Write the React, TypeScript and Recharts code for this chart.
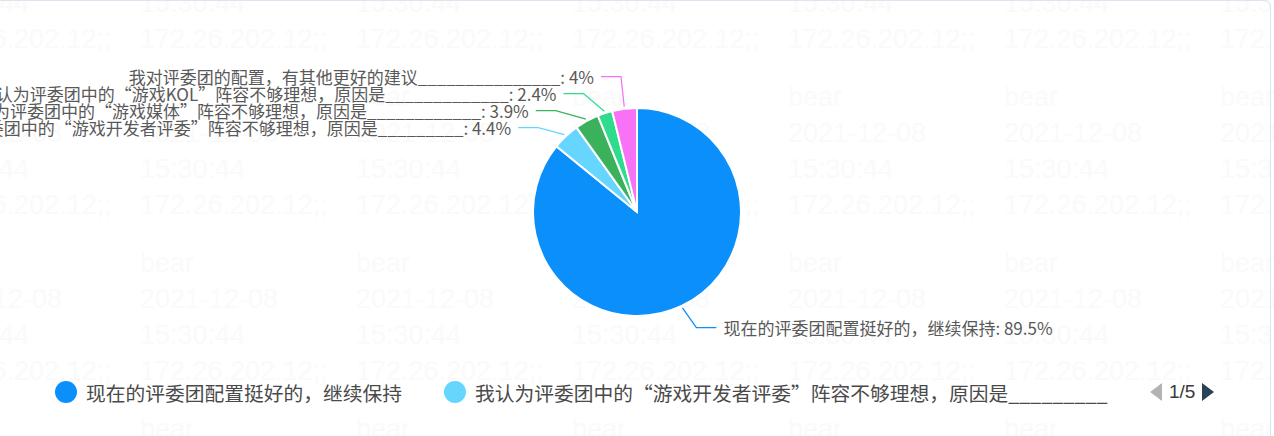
import { Cell, Legend, Pie, PieChart } from "recharts";

const answerLabels = [
  "现在的评委团配置挺好的，继续保持",
  "我认为评委团中的“游戏开发者评委”阵容不够理想，原因是_________",
  "我认为评委团中的“游戏媒体”阵容不够理想，原因是____________",
  "我认为评委团中的“游戏KOL”阵容不够理想，原因是_____________",
  "我对评委团的配置，有其他更好的建议_______________",
];
const answerShares = [89.5, 4.4, 3.9, 2.4, 4];
const sliceColors = ["#0a8ffb", "#66d6ff", "#3bb15b", "#2fdb8d", "#f872f6"];

const legendPerPage = 2;
const legendPage = "1/5";

const watermarkLines = ["bear", "2021-12-08", "15:30:44", "172.26.202.12;;"];

const chartWidth = 1274;
const chartHeight = 436;
const pieCx = 637;
const pieCy = 212;
const pieRadius = 104;
const startAngle = 90;
const endAngle = -270;

const labelFont = '"Noto Sans CJK SC", "Liberation Sans", sans-serif';
const RAD = Math.PI / 180;

const pieData = answerLabels.map((name, i) => ({ name, value: answerShares[i] }));

// label y positions: natural spot on a ring outside the pie, then spread so they don't overlap
function computeLabelYs(): number[] {
  const total = answerShares.reduce((s, v) => s + v, 0);
  const ring = pieRadius + 24;
  let acc = 0;
  const items = answerShares.map((v, i) => {
    const mid = startAngle + ((endAngle - startAngle) * (acc + v / 2)) / total;
    acc += v;
    const y = pieCy - ring * Math.sin(mid * RAD);
    return { i, right: Math.cos(mid * RAD) >= 0, natural: y, y };
  });
  const gap = 17;
  [true, false].forEach((side) => {
    const group = items.filter((d) => d.right === side).sort((a, b) => a.natural - b.natural);
    for (let k = 1; k < group.length; k++) {
      group[k].y = Math.max(group[k].y, group[k - 1].y + gap);
    }
    if (!group.length) return;
    const shift = group.reduce((s, d) => s + d.natural - d.y, 0) / group.length;
    group.forEach((d) => {
      d.y += shift * 0.7;
    });
  });
  return items.map((d) => d.y);
}

const labelYs = computeLabelYs();

function renderLabel(props: any) {
  const { cx, cy, midAngle, outerRadius, index } = props;
  const color = sliceColors[index];
  const cos = Math.cos(-midAngle * RAD);
  const sin = Math.sin(-midAngle * RAD);
  const sx = cx + (outerRadius + 2) * cos;
  const sy = cy + (outerRadius + 2) * sin;
  const right = cos >= 0;
  const sign = right ? 1 : -1;
  const ey = labelYs[index];
  const dy = ey - cy;
  const ex = cx + sign * Math.sqrt(Math.max(130 * 130 - dy * dy, 16 * 16));
  const hx = ex + sign * 20;
  const tx = hx + sign * 7;
  return (
    <g key={`lbl-${index}`}>
      <polyline
        points={`${sx},${sy} ${ex},${ey} ${hx},${ey}`}
        fill="none"
        stroke={color}
        strokeWidth={1.3}
      />
      <text
        x={tx}
        y={ey}
        textAnchor={right ? "start" : "end"}
        dominantBaseline="central"
        fontSize={17}
        fill="#595959"
        fontFamily={labelFont}
      >
        {`${answerLabels[index]}: ${answerShares[index]}%`}
      </text>
    </g>
  );
}

function renderLegend() {
  const items = answerLabels.slice(0, legendPerPage);
  return (
    <div style={{ position: "relative", width: chartWidth, height: 34, fontFamily: labelFont }}>
      <div style={{ display: "flex", alignItems: "center", height: 34, paddingLeft: 55, gap: 42 }}>
        {items.map((name, i) => (
          <div key={name} style={{ display: "flex", alignItems: "center" }}>
            <span
              style={{
                width: 22,
                height: 22,
                borderRadius: "50%",
                background: sliceColors[i],
                marginRight: 9,
                display: "inline-block",
              }}
            />
            <span style={{ fontSize: 19.75, color: "#4a4a4a", whiteSpace: "nowrap" }}>{name}</span>
          </div>
        ))}
      </div>
      <div
        style={{
          position: "absolute",
          left: 1150,
          top: 0,
          height: 34,
          display: "flex",
          alignItems: "center",
        }}
      >
        <span
          style={{
            width: 0,
            height: 0,
            borderTop: "9px solid transparent",
            borderBottom: "9px solid transparent",
            borderRight: "12px solid #b3b3b3",
          }}
        />
        <span
          style={{
            fontFamily: '"Liberation Sans", Arial, sans-serif',
            fontSize: 19,
            color: "#3a3a3a",
            margin: "0 7px",
          }}
        >
          {legendPage}
        </span>
        <span
          style={{
            width: 0,
            height: 0,
            borderTop: "9px solid transparent",
            borderBottom: "9px solid transparent",
            borderLeft: "12px solid #2a4256",
          }}
        />
      </div>
    </div>
  );
}

function Watermark() {
  const cells = [];
  for (let m = -1; m <= 2; m++) {
    for (let k = 0; k <= 6; k++) {
      watermarkLines.forEach((line, j) => {
        const y = 97 + 166 * m + 36 * j;
        cells.push(
          <div
            key={`${m}-${k}-${j}`}
            style={{
              position: "absolute",
              left: -76 + 216 * k,
              top: y - 16,
              fontSize: 27,
              lineHeight: "32px",
              whiteSpace: "nowrap",
              color: "#fafafa",
              fontFamily: '"Liberation Sans", Arial, sans-serif',
            }}
          >
            {line}
          </div>,
        );
      });
    }
  }
  return <>{cells}</>;
}

export default function App() {
  return (
    <div
      style={{
        position: "fixed",
        left: 0,
        top: 0,
        width: chartWidth,
        height: chartHeight,
        overflow: "hidden",
        background: "#ffffff",
      }}
    >
      <Watermark />
      <div
        style={{
          position: "absolute",
          left: -20,
          top: 0,
          width: 1291,
          height: 600,
          boxSizing: "border-box",
          border: "1.5px solid #e1e4f0",
          borderRadius: 6,
        }}
      />
      <div style={{ position: "absolute", left: 0, top: 0 }}>
        <PieChart
          width={chartWidth}
          height={chartHeight}
          margin={{ top: 0, right: 0, bottom: 0, left: 0 }}
        >
          <Pie
            data={pieData}
            dataKey="value"
            nameKey="name"
            cx={pieCx}
            cy={pieCy}
            outerRadius={pieRadius}
            startAngle={startAngle}
            endAngle={endAngle}
            stroke="#ffffff"
            strokeWidth={2}
            label={renderLabel}
            labelLine={false}
            isAnimationActive={false}
          >
            {pieData.map((d, i) => (
              <Cell key={d.name} fill={sliceColors[i]} />
            ))}
          </Pie>
          <Legend
            content={renderLegend}
            wrapperStyle={{ left: 0, top: 375, width: chartWidth, height: 34 }}
          />
        </PieChart>
      </div>
    </div>
  );
}
